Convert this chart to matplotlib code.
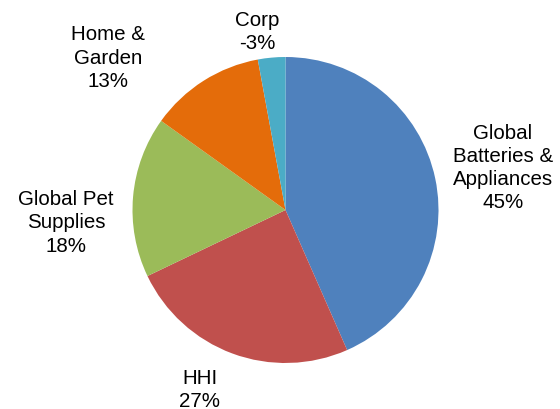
import matplotlib
matplotlib.use("Agg")
import matplotlib.pyplot as plt

plt.rcParams['font.family'] = ['Liberation Sans', 'DejaVu Sans']

# segments, clockwise from 12 o'clock
segments = ["Global\nBatteries &\nAppliances", "HHI", "Global Pet\nSupplies", "Home &\nGarden", "Corp"]
pct_labels = ["45%", "27%", "18%", "13%", "-3%"]
# slice sizes as drawn (Corp shown by absolute value)
shares = [43.4, 24.5, 17.0, 12.2, 2.9]

colors = ["#4F81BD", "#C0504D", "#9BBB59", "#E46C0A", "#4BACC6"]

# label anchor points in pixel space (x, y from top)
label_pos = [(503, 168), (200, 390), (66, 223), (108, 58), (257, 32)]

fig = plt.figure(figsize=(5.6, 4.1), dpi=100)
ax = fig.add_axes([0, 0, 1, 1])

ax.pie(shares, colors=colors, startangle=90, counterclock=False,
       center=(285.5, 410 - 211), radius=153,
       wedgeprops=dict(linewidth=0))

for name, pct, (x, y) in zip(segments, pct_labels, label_pos):
    ax.text(x, 410 - y, name + "\n" + pct, ha="center", va="center",
            fontsize=14.8, color="black", linespacing=1.27)

ax.set_xlim(0, 560)
ax.set_ylim(0, 410)
ax.set_aspect("equal")
ax.axis("off")

plt.savefig("out.png", dpi=100)
